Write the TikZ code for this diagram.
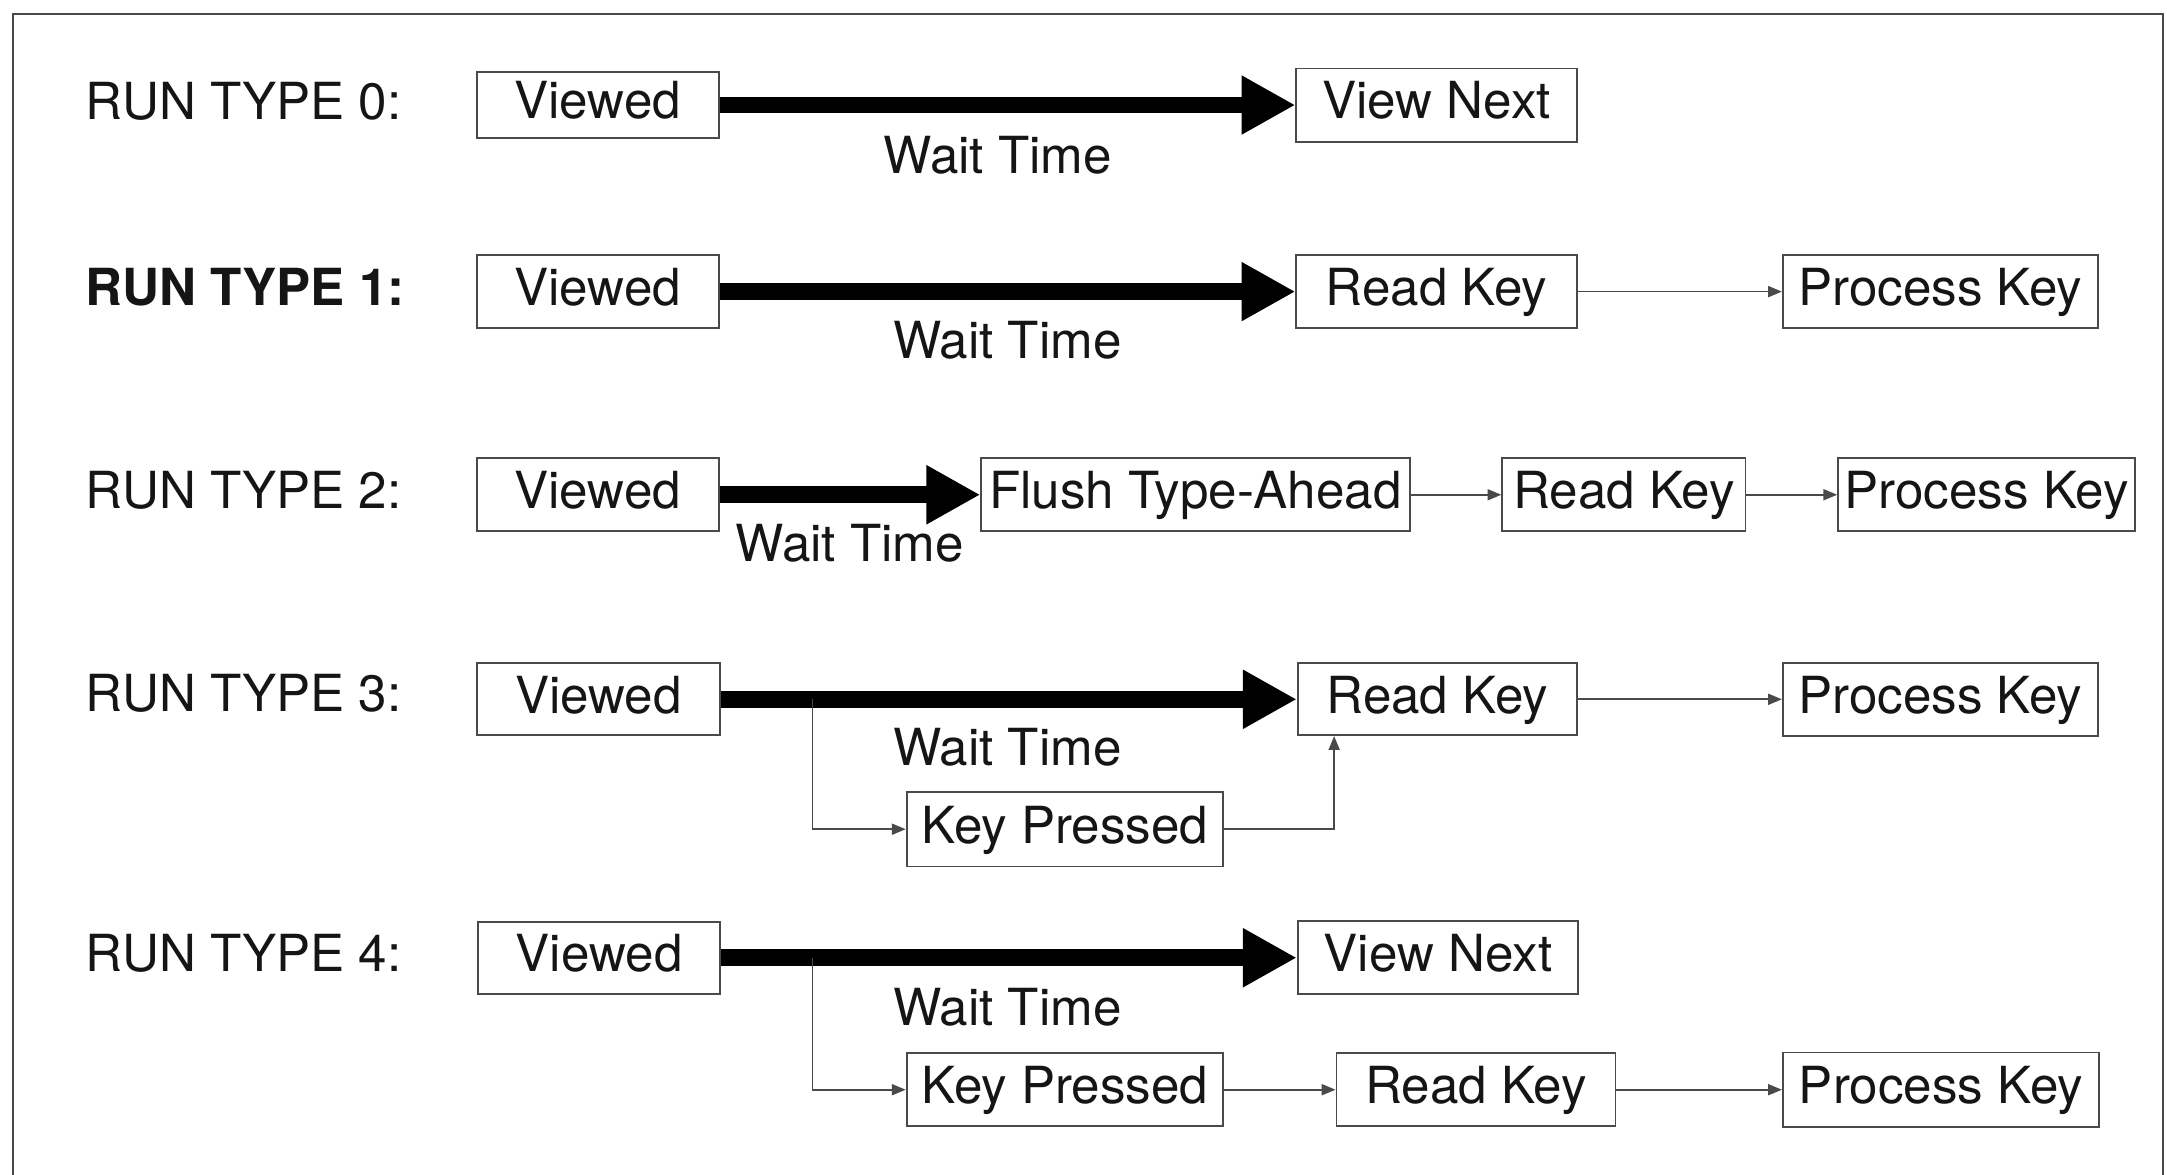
\documentclass[tikz,border=0pt]{standalone}
\usepackage{fontspec}
\setmainfont{TeX Gyre Heros}
\usetikzlibrary{arrows.meta,calc}

\definecolor{rule}{HTML}{4A4A4A}
\definecolor{ink}{HTML}{151515}

\tikzset{
  box/.style={draw=rule, line width=1.3pt, fill=white, text=ink,
    inner sep=0pt, anchor=center, text height=27pt, text depth=7pt},
  runlabel/.style={anchor=west, inner sep=0pt, text=ink},
  waitlabel/.style={inner sep=0pt, text=ink},
  waitarrow/.style={draw=black, line width=12pt,
    -{Triangle[length=39pt,width=40pt]}},
  flow/.style={draw=rule, line width=1.2pt,
    -{Triangle[length=10pt,width=8pt]}},
}

\begin{document}
\begin{tikzpicture}[x=1pt, y=-1pt, font=\fontsize{37}{40}\selectfont]
\useasboundingbox (0,0) rectangle (1568,850);

% outer frame, open at the bottom
\draw[rule, line width=1.5pt] (9.6,850) -- (9.6,10) -- (1565,10) -- (1565,850);

% ---------- run type 0 ----------
\node[runlabel] (l0) at (62,73) {RUN TYPE 0:};
\node[box, minimum width=175pt, minimum height=48pt] (v0) at (432.5,76) {Viewed};
\node[box, minimum width=203pt, minimum height=53pt] (n0) at (1039.5,76) {View Next};
\draw[waitarrow] (v0.east) -- (n0.west);
\node[waitlabel] (w0) at (722,112) {Wait Time};

% ---------- run type 1 ----------
\node[runlabel, font=\fontsize{37}{40}\selectfont\bfseries] (l1) at (62,208) {RUN TYPE 1:};
\node[box, minimum width=175pt, minimum height=53pt] (v1) at (432.5,211) {Viewed};
\node[box, minimum width=203pt, minimum height=53pt] (r1) at (1039.5,211) {Read Key};
\node[box, minimum width=228pt, minimum height=53pt] (p1) at (1404,211) {Process Key};
\draw[waitarrow] (v1.east) -- (r1.west);
\draw[flow] (r1.east) -- (p1.west);
\node[waitlabel] (w1) at (729,246) {Wait Time};

% ---------- run type 2 ----------
\node[runlabel] (l2) at (62,355) {RUN TYPE 2:};
\node[box, minimum width=175pt, minimum height=53pt] (v2) at (432.5,358) {Viewed};
\node[box, minimum width=310pt, minimum height=53pt] (f2) at (865,358) {Flush Type-Ahead};
\node[box, minimum width=176pt, minimum height=53pt] (r2) at (1175,358) {Read Key};
\node[box, minimum width=215pt, minimum height=53pt] (p2) at (1437.5,358) {Process Key};
\draw[waitarrow] (v2.east) -- (f2.west);
\draw[flow] (f2.east) -- (r2.west);
\draw[flow] (r2.east) -- (p2.west);
\node[waitlabel] (w2) at (615,393) {Wait Time};

% ---------- run type 3 ----------
\node[runlabel] (l3) at (62,502) {RUN TYPE 3:};
\node[box, minimum width=176pt, minimum height=52pt] (v3) at (433,506) {Viewed};
\node[box, minimum width=202pt, minimum height=52pt] (r3) at (1040,506) {Read Key};
\node[box, minimum width=228pt, minimum height=53pt] (p3) at (1404,506) {Process Key};
\node[box, minimum width=229pt, minimum height=54pt] (k3) at (770.5,600) {Key Pressed};
\draw[waitarrow] (v3.east) -- (r3.west);
\draw[flow] (r3.east) -- (p3.west);
\node[waitlabel] (w3) at (729,541) {Wait Time};
\coordinate (b3) at (588,506);
\coordinate (u3) at ($(r3.south west)+(27,0)$);
\draw[flow] (b3) |- (k3.west);
\draw[flow] (k3.east) -| (u3);

% ---------- run type 4 ----------
\node[runlabel] (l4) at (62,690) {RUN TYPE 4:};
\node[box, minimum width=175pt, minimum height=52pt] (v4) at (433.5,693) {Viewed};
\node[box, minimum width=203pt, minimum height=53pt] (n4) at (1040.5,693) {View Next};
\node[box, minimum width=229pt, minimum height=53pt] (k4) at (770.5,788.5) {Key Pressed};
\node[box, minimum width=202pt, minimum height=53pt] (r4) at (1068,788.5) {Read Key};
\node[box, minimum width=229pt, minimum height=54pt] (p4) at (1404.5,788.5) {Process Key};
\draw[waitarrow] (v4.east) -- (n4.west);
\node[waitlabel] (w4) at (729,729) {Wait Time};
\coordinate (b4) at (588,693);
\draw[flow] (b4) |- (k4.west);
\draw[flow] (k4.east) -- (r4.west);
\draw[flow] (r4.east) -- (p4.west);
\end{tikzpicture}
\end{document}
